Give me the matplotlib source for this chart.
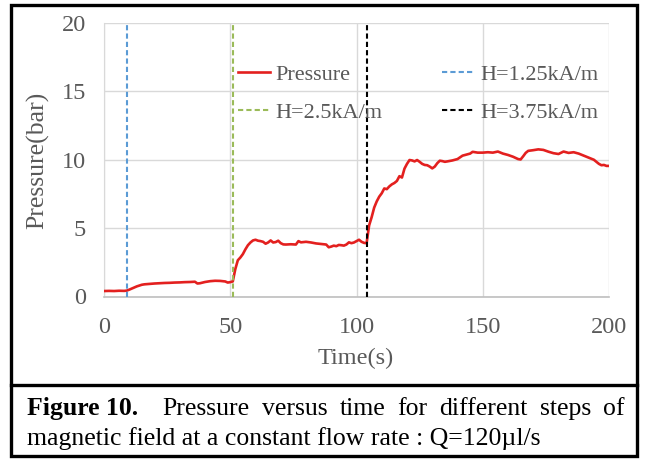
import matplotlib
matplotlib.use("Agg")
import matplotlib.pyplot as plt
from matplotlib.lines import Line2D
from matplotlib.patches import Rectangle

plt.rcParams['font.family'] = ['Liberation Serif', 'DejaVu Serif']

# ---------------- data ----------------
time_s = [0, 2, 4, 6, 8, 9, 10, 11, 12, 13,
          14, 15, 16, 18, 20, 22, 24, 26, 28, 30,
          32, 34, 36, 37, 38, 40, 42, 44, 46, 48,
          49, 50, 51, 52, 53, 54, 55, 56, 57, 58,
          59, 60, 61, 62, 63, 64, 65, 66, 67, 68,
          69, 70, 71, 72, 74, 76, 77, 78, 80, 82,
          84, 86, 88, 89, 90, 91, 92, 93, 94, 95,
          96, 97, 98, 99, 100, 101, 102, 103, 104, 105,
          106, 107, 108, 109, 110, 111, 112, 113, 114, 115,
          116, 117, 118, 119, 120, 121, 122, 123, 124, 125,
          126, 127, 128, 129, 130, 131, 132, 133, 134, 135,
          136, 138, 140, 142, 144, 145, 146, 148, 150, 152,
          154, 156, 158, 160, 162, 164, 165, 166, 167, 168,
          170, 172, 174, 176, 178, 180, 182, 184, 186, 188,
          190, 192, 194, 196, 197, 198, 199, 200]
pressure_bar = [0.40, 0.41, 0.40, 0.42, 0.41, 0.43, 0.50, 0.58, 0.66, 0.74,
                0.80, 0.86, 0.89, 0.92, 0.95, 0.97, 0.99, 1.00, 1.02, 1.03,
                1.05, 1.06, 1.08, 0.95, 0.97, 1.06, 1.12, 1.15, 1.14, 1.10,
                1.02, 1.05, 1.10, 2.00, 2.65, 2.85, 3.10, 3.45, 3.75, 3.95,
                4.10, 4.15, 4.08, 4.05, 4.00, 3.86, 3.95, 4.10, 3.95, 3.98,
                4.08, 3.90, 3.81, 3.80, 3.82, 3.80, 4.05, 3.96, 4.00, 3.95,
                3.88, 3.84, 3.80, 3.60, 3.65, 3.72, 3.68, 3.77, 3.75, 3.72,
                3.80, 3.96, 3.90, 3.95, 4.05, 4.15, 4.00, 3.92, 3.90, 5.20,
                5.80, 6.50, 6.95, 7.30, 7.55, 7.90, 7.85, 8.05, 8.20, 8.30,
                8.45, 8.80, 8.70, 9.35, 9.70, 9.98, 9.95, 9.88, 9.98, 9.85,
                9.70, 9.62, 9.60, 9.50, 9.37, 9.50, 9.75, 9.93, 9.90, 9.85,
                9.88, 9.95, 10.05, 10.30, 10.40, 10.45, 10.58, 10.52, 10.52, 10.55,
                10.52, 10.60, 10.45, 10.35, 10.22, 10.05, 10.02, 10.25, 10.50, 10.65,
                10.70, 10.76, 10.72, 10.59, 10.48, 10.42, 10.60, 10.50, 10.55, 10.45,
                10.30, 10.15, 10.00, 9.70, 9.60, 9.62, 9.55, 9.55]
assert len(time_s) == len(pressure_bar)

field_times = [9, 51, 104]
field_labels = ["H=1.25kA/m", "H=2.5kA/m", "H=3.75kA/m"]
field_colors = ["#5B9BD5", "#9BBB59", "#000000"]

x_ticks = [0, 50, 100, 150, 200]
y_ticks = [0, 5, 10, 15, 20]
x_label = "Time(s)"
y_label = "Pressure(bar)"
caption_bold = "Figure 10."
caption_line1 = "Pressure versus time for different steps of"
caption_line2 = "magnetic field at a constant flow rate : Q=120\u00b5l/s"

# ---------------- figure ----------------
W, H = 646, 462
fig = plt.figure(figsize=(W / 100, H / 100), dpi=100)

def fx(px):
    return px / W

def fy(py):
    return 1 - py / H

ax = fig.add_axes([fx(104), fy(296.5), fx(609) - fx(104), fy(23) - fy(296.5)])

text_gray = "#595959"
grid_gray = "#D9D9D9"

line_p, = ax.plot(time_s, pressure_bar, color="#E3201F", lw=1.9, zorder=3)
vlines = []
for t, c in zip(field_times, field_colors):
    l = ax.axvline(t, color=c, lw=1.5, ls=(0, (2.5, 1.5)), zorder=4)
    vlines.append(l)

ax.set_xlim(0, 200)
ax.set_ylim(0, 20)
ax.set_xticks(x_ticks)
ax.set_yticks(y_ticks)
ax.grid(True, color=grid_gray, lw=1.0)
ax.set_axisbelow(True)
for s in ["top", "right"]:
    ax.spines[s].set_visible(False)
ax.spines["left"].set_color(grid_gray)
ax.spines["bottom"].set_color("#BFBFBF")
ax.spines["bottom"].set_linewidth(1.2)
ax.tick_params(length=0, labelsize=17.5, colors=text_gray, pad=13)
ax.tick_params(axis="x", pad=15)

fig.text(fx(38), fy(160), y_label, rotation=90, ha="center", va="center",
         fontsize=18.5, color=text_gray)
fig.text(fx(356), fy(358), x_label, ha="center", va="center",
         fontsize=17.5, color=text_gray)

handles = [line_p, vlines[1], vlines[0], vlines[2]]
labels = ["Pressure", field_labels[1], field_labels[0], field_labels[2]]
leg = ax.legend(handles, labels, ncol=2, loc="upper left",
                bbox_to_anchor=((237.7 - 104) / 505, (296.5 - 64) / 273.5),
                frameon=False, fontsize=16, borderpad=0, borderaxespad=0,
                handlelength=1.45, handletextpad=0.25, columnspacing=2.7,
                labelspacing=0.8)
for t in leg.get_texts():
    t.set_color(text_gray)

# frame and caption box
fig.add_artist(Rectangle((fx(10.5), fy(456)), fx(637) - fx(10.5), fy(5) - fy(456),
                         transform=fig.transFigure, fill=False, ec="black", lw=2.4))
fig.add_artist(Line2D([fx(10.5), fx(637)], [fy(385), fy(385)],
                      transform=fig.transFigure, color="black", lw=2.4))

# caption, first line justified
cap_fs = 18.5
fig.canvas.draw()
renderer = fig.canvas.get_renderer()
left_px, right_px = 27, 625
y1 = fy(409)
words = [(caption_bold, "bold")] + [(w, "normal") for w in caption_line1.split(" ")]
texts = []
widths = []
for w, wt in words:
    t = fig.text(0, y1, w, fontsize=cap_fs, fontweight=wt, color="black",
                 ha="left", va="center")
    texts.append(t)
    widths.append(t.get_window_extent(renderer).width)
n_gaps = len(words) - 1
g = (right_px - left_px - sum(widths)) / (n_gaps + 1)  # first gap doubled
x = left_px
for i, (t, w) in enumerate(zip(texts, widths)):
    t.set_x(fx(x))
    x += w + (2 * g if i == 0 else g)
fig.text(fx(left_px), fy(439), caption_line2, fontsize=cap_fs, color="black",
         ha="left", va="center")

fig.savefig("out.png", dpi=100)
